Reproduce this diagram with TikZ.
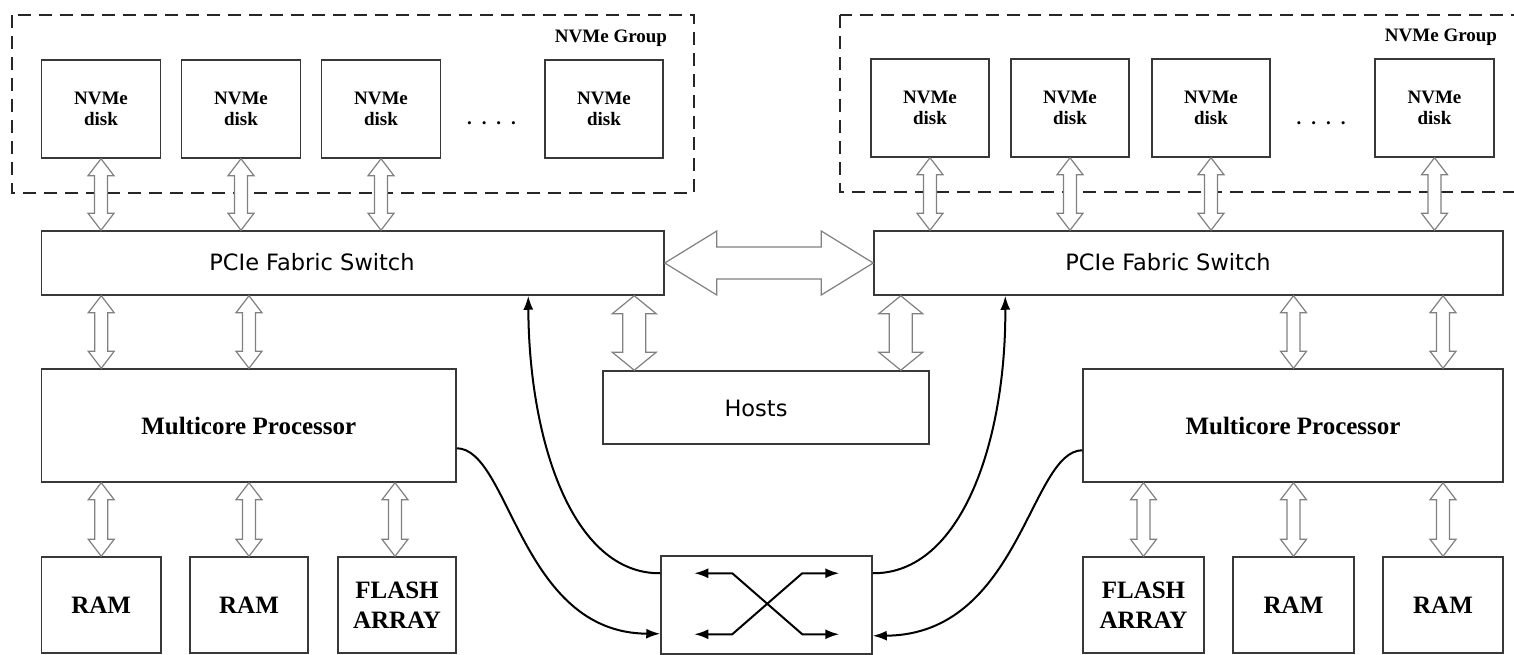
\documentclass[tikz,border=0pt]{standalone}
\usepackage{fontspec}
\setmainfont{Liberation Serif}
\newfontfamily\dejavu{DejaVu Sans}
\usetikzlibrary{calc,arrows.meta}

% hollow vertical double arrow: #1 top point, #2 bottom point,
% #3 half shaft width, #4 half head width, #5 head length
\newcommand\vdarrow[5]{%
  \draw[hollow] let \p1=(#1), \p2=(#2) in
    (\x1,\y1) -- ({\x1+#4},{\y1-#5}) -- ({\x1+#3},{\y1-#5})
    -- ({\x1+#3},{\y2+#5}) -- ({\x1+#4},{\y2+#5}) -- (\x1,\y2)
    -- ({\x1-#4},{\y2+#5}) -- ({\x1-#3},{\y2+#5})
    -- ({\x1-#3},{\y1-#5}) -- ({\x1-#4},{\y1-#5}) -- cycle;}
% hollow horizontal double arrow: #1 left point, #2 right point
\newcommand\hdarrow[5]{%
  \draw[hollow] let \p1=(#1), \p2=(#2) in
    (\x1,\y1) -- ({\x1+#5},{\y1+#4}) -- ({\x1+#5},{\y1+#3})
    -- ({\x2-#5},{\y1+#3}) -- ({\x2-#5},{\y1+#4}) -- (\x2,\y1)
    -- ({\x2-#5},{\y1-#4}) -- ({\x2-#5},{\y1-#3})
    -- ({\x1+#5},{\y1-#3}) -- ({\x1+#5},{\y1-#4}) -- cycle;}
\newcommand\smallarrow[2]{\vdarrow{#1}{#2}{6.5pt}{13pt}{17pt}}
\newcommand\widearrow[2]{\vdarrow{#1}{#2}{11.5pt}{22pt}{18pt}}

\begin{document}
\begin{tikzpicture}[x=1pt,y=-1pt,
  box/.style={draw=black!78,line width=1.5pt,inner sep=0pt,fill=white},
  serifbold/.style={font=\fontsize{19}{21}\selectfont\bfseries,align=center},
  bigserif/.style={font=\fontsize{25}{30}\selectfont\bfseries,align=center},
  sanslabel/.style={font=\dejavu\fontsize{22.5}{26}\selectfont,inner sep=0pt},
  disk/.style={box,serifbold,minimum width=119pt,minimum height=98pt},
  membox/.style={box,bigserif,minimum width=119pt,minimum height=96pt},
  group/.style={draw=black!85,line width=1.8pt,dash pattern=on 13pt off 8pt},
  hollow/.style={draw=black!50,line width=1.2pt,fill=white,line join=miter},
  link/.style={draw=black,line width=2pt,-{Latex[length=14pt,width=10pt]}},
  xlink/.style={draw=black,line width=2pt,
    {Latex[length=14pt,width=10pt]}-{Latex[length=14pt,width=10pt]}}]
\useasboundingbox (0,0) rectangle (1514,655);

% ---------------- left storage node ----------------
\draw[group] (12,15) rectangle (694,193);
\node[serifbold] (gL) at (611,38) {NVMe Group};
\node[disk] (dL1) at (101,109) {NVMe\\disk};
\node[disk] (dL2) at (241,109) {NVMe\\disk};
\node[disk] (dL3) at (381,109) {NVMe\\disk};
\node[disk,minimum width=118pt] (dL4) at (604,109) {NVMe\\disk};
\node[serifbold,anchor=base] (dotsL) at (491.5,125) {.\hspace{10pt}.\hspace{10pt}.\hspace{10pt}.};

\node[box,minimum width=622.5pt,minimum height=64pt] (pL) at (352.75,263) {};
\node[sanslabel] (pLt) at (312,262) {PCIe Fabric Switch};
\node[box,bigserif,minimum width=414.5pt,minimum height=113pt] (mL) at (248.75,425.5) {Multicore Processor};
\node[membox,minimum width=119.5pt] (rL1) at (101.25,605) {RAM};
\node[membox,minimum width=118pt] (rL2) at (249,605) {RAM};
\node[membox,minimum width=118pt] (rL3) at (397,605) {FLASH\\ARRAY};

% ---------------- right storage node ----------------
\draw[group] (840,15) rectangle (1530,192);
\node[serifbold] (gR) at (1441,37) {NVMe Group};
\node[disk,minimum width=118pt] (dR1) at (930,108) {NVMe\\disk};
\node[disk,minimum width=118pt] (dR2) at (1070,108) {NVMe\\disk};
\node[disk,minimum width=118pt] (dR3) at (1211,108) {NVMe\\disk};
\node[disk,minimum width=119pt] (dR4) at (1434.5,108) {NVMe\\disk};
\node[serifbold,anchor=base] (dotsR) at (1321,125) {.\hspace{10pt}.\hspace{10pt}.\hspace{10pt}.};

\node[box,minimum width=629pt,minimum height=64pt] (pR) at (1188.5,263) {};
\node[sanslabel] (pRt) at (1168,262) {PCIe Fabric Switch};
\node[box,bigserif,minimum width=420pt,minimum height=113pt] (mR) at (1293,425.5) {Multicore Processor};
\node[membox,minimum width=121pt] (bR1) at (1143.5,605) {FLASH\\ARRAY};
\node[membox,minimum width=121pt] (bR2) at (1293.5,605) {RAM};
\node[membox,minimum width=120pt] (bR3) at (1443,605) {RAM};

% ---------------- shared parts ----------------
\node[box,minimum width=326pt,minimum height=73pt] (hosts) at (766,407.5) {};
\node[sanslabel] (hostst) at (756,408) {Hosts};
\node[box,minimum width=211pt,minimum height=98pt] (sw) at (766.5,605) {};
\coordinate (hA) at ([xshift=32pt]hosts.north west);
\coordinate (hB) at ([xshift=-29pt]hosts.north east);

% crossbar inside the switch
\draw[xlink] ([shift={(34pt,-18pt)}]sw.north west) -- ([shift={(72pt,-18pt)}]sw.north west)
  -- ([shift={(142pt,-79pt)}]sw.north west) -- ([shift={(179pt,-79pt)}]sw.north west);
\draw[xlink] ([shift={(34pt,-79pt)}]sw.north west) -- ([shift={(72pt,-79pt)}]sw.north west)
  -- ([shift={(142pt,-18pt)}]sw.north west) -- ([shift={(179pt,-18pt)}]sw.north west);

% ---------------- hollow links ----------------
\smallarrow{dL1.south}{dL1.south |- pL.north}
\smallarrow{dL2.south}{dL2.south |- pL.north}
\smallarrow{dL3.south}{dL3.south |- pL.north}
\smallarrow{rL1 |- pL.south}{rL1 |- mL.north}
\smallarrow{rL2 |- pL.south}{rL2 |- mL.north}
\smallarrow{[xshift=-2pt]rL3.north |- mL.south}{[xshift=-2pt]rL3.north}
\smallarrow{rL1 |- mL.south}{rL1.north}
\smallarrow{rL2 |- mL.south}{rL2.north}

\smallarrow{dR1.south}{dR1.south |- pR.north}
\smallarrow{dR2.south}{dR2.south |- pR.north}
\smallarrow{dR3.south}{dR3.south |- pR.north}
\smallarrow{dR4.south}{dR4.south |- pR.north}
\smallarrow{bR2 |- pR.south}{bR2 |- mR.north}
\smallarrow{bR3 |- pR.south}{bR3 |- mR.north}
\smallarrow{bR1 |- mR.south}{bR1.north}
\smallarrow{bR2 |- mR.south}{bR2.north}
\smallarrow{bR3 |- mR.south}{bR3.north}

\widearrow{hA |- pL.south}{hA}
\widearrow{hB |- pR.south}{hB}
\hdarrow{pL.east}{pR.west}{16pt}{32pt}{52pt}

% ---------------- processor / switch links ----------------
\draw[link] ([yshift=-18pt]sw.north west) .. controls (572,574) and (529,440)
  .. ([xshift=487.5pt]pL.south west);
\draw[link] ([yshift=-80pt]mL.north east) .. controls (510,449) and (520,633)
  .. ([yshift=21pt]sw.south west);
\draw[link] ([yshift=-18pt]sw.north east) .. controls (962,574) and (1006,440)
  .. ([xshift=132pt]pR.south west);
\draw[link] ([yshift=-82pt]mR.north west) .. controls (1030,451) and (1020,635)
  .. ([yshift=19pt]sw.south east);
\end{tikzpicture}
\end{document}
